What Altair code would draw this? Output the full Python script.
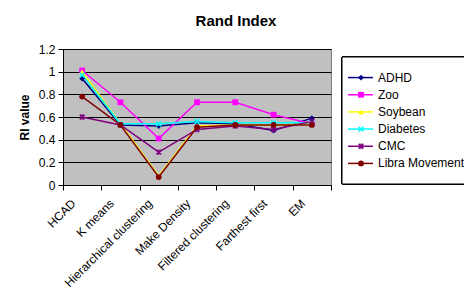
import altair as alt
import pandas as pd

methods = ["HCAD", "K means", "Hierarchical clustering", "Make Density",
           "Filtered clustering", "Farthest first", "EM"]
series = ["ADHD", "Zoo", "Soybean", "Diabetes", "CMC", "Libra Movement"]
adhd = [0.94, 0.53, 0.52, 0.55, 0.54, 0.48, 0.59]
zoo = [1.01, 0.73, 0.41, 0.73, 0.73, 0.62, 0.54]
soybean = [1.00, 0.54, 0.08, 0.52, 0.53, 0.53, 0.54]
diabetes = [0.97, 0.54, 0.54, 0.56, 0.55, 0.55, 0.55]
cmc = [0.60, 0.53, 0.29, 0.49, 0.52, 0.49, 0.56]
libra = [0.78, 0.53, 0.07, 0.51, 0.53, 0.53, 0.53]
values = [adhd, zoo, soybean, diabetes, cmc, libra]

colors = ["#000080", "#FF00FF", "#FFFF00", "#00FFFF", "#800080", "#800000"]
xshape = "M-1,-0.6L-0.6,-1L0,-0.4L0.6,-1L1,-0.6L0.4,0L1,0.6L0.6,1L0,0.4L-0.6,1L-1,0.6L-0.4,0Z"
star = xshape + "M-0.15,-1H0.15V1H-0.15Z"
shapes = ["diamond", "square", "triangle-up", xshape, star, "circle"]

rows = []
for s, vals in zip(series, values):
    for m, v in zip(methods, vals):
        rows.append({"series": s, "method": m, "value": v})
df = pd.DataFrame(rows)
leg = pd.DataFrame({"series": series})

FONT = "Liberation Sans"
color = alt.Color("series:N", scale=alt.Scale(domain=series, range=colors), legend=None)
shape = alt.Shape("series:N", scale=alt.Scale(domain=series, range=shapes), legend=None)

xenc = alt.X("method:N", sort=methods, bandPosition=0.5,
             scale=alt.Scale(type="band", domain=methods, paddingInner=0, paddingOuter=0),
             axis=alt.Axis(title=None, labelAngle=-45, labelAlign="right", labelBaseline="middle",
                           tickBand="extent", tickSize=5, domainColor="black", tickColor="black",
                           labelFont=FONT, labelFontSize=12, labelColor="black", grid=False,
                           labelPadding=11, labelOffset=-9))
yenc = alt.Y("value:Q", scale=alt.Scale(domain=[0, 1.2], nice=False),
             axis=alt.Axis(title="RI value", values=[0, 0.2, 0.4, 0.6, 0.8, 1.0, 1.2],
                           format="~g", tickSize=5, domainColor="black", tickColor="black",
                           gridColor="black", gridWidth=1, grid=True,
                           labelFont=FONT, labelFontSize=12, labelColor="black",
                           titleFont=FONT, titleFontSize=12, titleFontWeight="bold",
                           titleColor="black", titlePadding=7, labelPadding=3))

lines = alt.Chart(df).mark_line(strokeWidth=1.5).encode(
    x=xenc, y=yenc, color=color, detail="series:N")
pts = alt.Chart(df).mark_point(filled=True, size=34, opacity=1).encode(
    x=xenc, y=yenc, color=color, shape=shape)
main = alt.layer(lines, pts)

ly = alt.Y("series:N", scale=alt.Scale(domain=series, range=[20, 123], padding=0), axis=None)
box = alt.Chart(leg).mark_rect(fill="white", stroke="black", strokeWidth=1).encode(
    x=alt.value(279), x2=alt.value(407), y=alt.value(8), y2=alt.value(135))
lrule = alt.Chart(leg).mark_rule(strokeWidth=1.5).encode(
    x=alt.value(285), x2=alt.value(310), y=ly, color=color)
lpts = alt.Chart(leg).mark_point(filled=True, size=34, opacity=1).encode(
    x=alt.value(298), y=ly, color=color, shape=shape)
ltext = alt.Chart(leg).mark_text(align="left", baseline="middle", font=FONT, fontSize=12,
                                 color="black").encode(
    x=alt.value(315), y=ly, text="series:N")
legend = alt.layer(box, lrule, lpts, ltext)

chart = alt.layer(main, legend).resolve_scale(y="independent").properties(
    width=268, height=136,
    title=alt.TitleParams("Rand Index", font=FONT, fontSize=15, fontWeight="bold",
                          anchor="middle", offset=14, dx=39, color="black"),
    autosize=alt.AutoSizeParams(type="none"),
    padding={"left": 55, "top": 41, "right": 133, "bottom": 106},
    background="white",
).configure_view(fill="#C0C0C0", stroke="#808080", strokeWidth=1)

chart.save("out.html", embed_options={"renderer": "svg", "actions": False})
